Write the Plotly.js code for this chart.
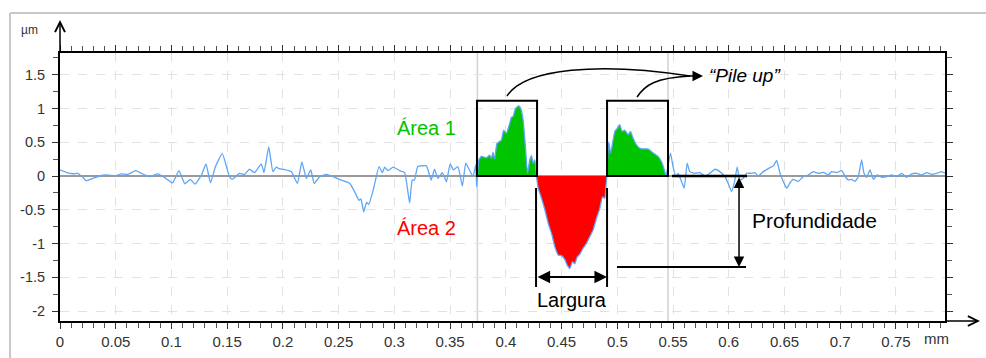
<!DOCTYPE html>
<html>
<head>
<meta charset="utf-8">
<script src="https://cdn.plot.ly/plotly-3.0.1.min.js"></script>
<style>html,body{margin:0;padding:0;background:#fff;}#chart{width:986px;height:358px;}</style>
</head>
<body>
<div id="chart"></div>
<script>
// ---- data (mm, µm) ----
const profileX = [0, 0.0055, 0.0115, 0.016, 0.0205, 0.0235, 0.0295, 0.0355, 0.0415, 0.05, 0.055, 0.061, 0.068, 0.073, 0.08, 0.088, 0.094, 0.101, 0.1067, 0.112, 0.117, 0.121, 0.127, 0.131, 0.135, 0.1395, 0.1456, 0.152, 0.1545, 0.161, 0.1656, 0.17, 0.1746, 0.1806, 0.183, 0.1873, 0.191, 0.194, 0.1964, 0.2015, 0.2075, 0.213, 0.217, 0.221, 0.225, 0.228, 0.233, 0.239, 0.245, 0.2524, 0.26, 0.2644, 0.2682, 0.270, 0.2725, 0.275, 0.277, 0.281, 0.2862, 0.2892, 0.2913, 0.2943, 0.2988, 0.3048, 0.3092, 0.3137, 0.316, 0.318, 0.321, 0.3287, 0.333, 0.336, 0.339, 0.343, 0.3467, 0.350, 0.353, 0.357, 0.361, 0.364, 0.367, 0.3706, 0.373, 0.3738, 0.3745,
  0.3757, 0.378, 0.3826, 0.3855, 0.387, 0.3885, 0.39, 0.392, 0.396, 0.398, 0.4005, 0.4035, 0.405, 0.4065, 0.4086, 0.4116, 0.4134, 0.4155, 0.4176, 0.4194, 0.4215, 0.423, 0.4244, 0.426, 0.4275,
  0.429, 0.432, 0.435, 0.438, 0.4413, 0.444, 0.4469, 0.450, 0.453, 0.455, 0.4574, 0.4598, 0.4619, 0.464, 0.4663, 0.4693, 0.4723, 0.4753, 0.4783, 0.4813, 0.4843, 0.4867, 0.4888, 0.4897, 0.4906,
  0.4912, 0.4924, 0.494, 0.4957, 0.4978, 0.4998, 0.5022, 0.5043, 0.5067, 0.5097, 0.5118, 0.5142, 0.5172, 0.5202, 0.5232, 0.5277, 0.5322, 0.5366, 0.5397, 0.5422, 0.5437,
  0.544, 0.5477, 0.550, 0.5525, 0.5546, 0.5576, 0.56, 0.5627, 0.565, 0.5696, 0.574, 0.5786, 0.583, 0.5876, 0.592, 0.5965, 0.5995, 0.6025, 0.6055, 0.6075, 0.61, 0.613, 0.616, 0.6204, 0.6234, 0.6265, 0.631, 0.6354, 0.640, 0.643, 0.646, 0.6497, 0.652, 0.655, 0.6578, 0.6623, 0.6668, 0.6713, 0.6758, 0.6803, 0.6848, 0.6893, 0.6922, 0.6968, 0.7013, 0.7042, 0.7072, 0.7102, 0.7132, 0.7162, 0.7192, 0.7213, 0.7237, 0.7267, 0.7297, 0.7332, 0.7372, 0.7417, 0.7462, 0.7507, 0.7551, 0.7596, 0.7641, 0.7686, 0.7731, 0.7776, 0.7821, 0.7866, 0.7911, 0.794];
const profileY = [0.09, 0.055, 0.033, 0.04, -0.02, -0.07, -0.035, 0, 0.015, 0.005, 0.03, 0.025, 0.08, 0.04, -0.01, 0.03, -0.025, -0.1, 0.08, -0.115, -0.05, -0.12, 0.015, 0.18, -0.1, 0.14, 0.33, -0.01, -0.05, 0.04, 0.025, 0.1, 0.05, 0.18, 0.05, 0.43, 0.065, 0.13, 0.11, 0.095, 0.065, -0.11, 0.21, -0.035, 0.09, -0.11, -0.01, 0.025, -0.01, -0.06, -0.11, -0.235, -0.36, -0.34, -0.53, -0.39, -0.42, -0.21, 0.14, 0.05, 0.13, 0.08, 0.13, 0.08, 0.05, -0.4, -0.06, -0.06, 0.14, 0.15, -0.06, 0.1, -0.035, 0.05, -0.085, 0.18, 0.09, 0.14, -0.15, 0.19, 0.1, -0.01, 0.165, -0.16, 0,
  0.237, 0.29, 0.27, 0.31, 0.26, 0.35, 0.25, 0.48, 0.53, 0.68, 0.63, 0.78, 0.87, 0.88, 1.0, 1.04, 1.0, 0.83, 0.43, 0.04, 0.24, 0.3, 0.19, 0.24, 0,
  -0.18, -0.33, -0.5, -0.7, -0.87, -1.05, -1.17, -1.18, -1.24, -1.32, -1.37, -1.27, -1.3, -1.2, -1.16, -1.07, -1.0, -0.9, -0.8, -0.63, -0.48, -0.31, -0.33, -0.18, 0,
  0.24, 0.5, 0.33, 0.48, 0.66, 0.7, 0.76, 0.66, 0.68, 0.61, 0.66, 0.56, 0.46, 0.41, 0.4, 0.4, 0.34, 0.29, 0.21, 0.09, 0,
  0.015, 0.34, 0.14, -0.01, 0.04, -0.08, -0.18, 0.19, 0.065, 0.04, 0.05, 0, 0.04, 0.1, 0.065, -0.01, -0.11, -0.23, -0.06, 0.13, -0.06, -0.035, 0.04, 0.04, 0.05, 0, 0.065, 0.11, 0.15, 0.23, 0.04, -0.11, -0.18, -0.1, -0.05, -0.08, -0.01, 0.015, 0.065, 0.04, 0.055, 0.015, 0.065, 0.05, 0.08, 0, -0.06, -0.05, -0.08, -0.01, 0.24, 0.04, -0.02, 0.09, -0.05, 0.015, -0.02, -0.01, 0.015, -0.01, 0.04, -0.02, 0.03, 0.04, 0.015, 0.05, 0.025, 0.04, 0.065, 0.04];

const area1Range = [0.3745, 0.4275];   // pile-up left (Área 1)
const area2Range = [0.4275, 0.4906];   // groove (Área 2)
const area3Range = [0.4906, 0.5437];   // pile-up right (Área 1)

const xTickVals = [0, 0.05, 0.1, 0.15, 0.2, 0.25, 0.3, 0.35, 0.4, 0.45, 0.5, 0.55, 0.6, 0.65, 0.7, 0.75];
const xTickLabels = ["0", "0.05", "0.1", "0.15", "0.2", "0.25", "0.3", "0.35", "0.4", "0.45", "0.5", "0.55", "0.6", "0.65", "0.7", "0.75"];
const yTickVals = [1.5, 1, 0.5, 0, -0.5, -1, -1.5, -2];
const yTickLabels = ["1.5", "1", "0.5", "0", "-0.5", "-1", "-1.5", "-2"];

// ---- helpers ----
function segment(range) {
  const xs = [], ys = [];
  profileX.forEach((x, i) => { if (x >= range[0] - 1e-9 && x <= range[1] + 1e-9) { xs.push(x); ys.push(profileY[i]); } });
  return {xs, ys};
}
const GREEN = '#00c400', RED = '#ff0000', BLUE = '#5ea6f6';
const FONT = 'Liberation Sans, Arial, Helvetica, sans-serif';

const s1 = segment(area1Range), s2 = segment(area2Range), s3 = segment(area3Range);
const traces = [
  {x: s1.xs, y: s1.ys, type: 'scatter', mode: 'none', fill: 'toself', fillcolor: GREEN, hoverinfo: 'skip'},
  {x: s2.xs, y: s2.ys, type: 'scatter', mode: 'none', fill: 'toself', fillcolor: RED, hoverinfo: 'skip'},
  {x: s3.xs, y: s3.ys, type: 'scatter', mode: 'none', fill: 'toself', fillcolor: GREEN, hoverinfo: 'skip'},
  {x: profileX, y: profileY, type: 'scatter', mode: 'lines', line: {color: BLUE, width: 1.3, shape: 'spline', smoothing: 0.4}, hoverinfo: 'skip'}
];

const boxTop = 1.116;
const lineBlack = {color: '#000', width: 2};
const shapes = [
  // outer gray frame of the figure
  {type: 'line', xref: 'paper', yref: 'paper', x0: -0.0565, x1: 1.1, y0: 1.149, y1: 1.149, line: {color: '#c8c8c8', width: 2}},
  {type: 'line', xref: 'paper', yref: 'paper', x0: -0.0565, x1: -0.0565, y0: 1.149, y1: -0.2, line: {color: '#c8c8c8', width: 2}},
  // gray vertical reference lines
  {type: 'line', xref: 'x', yref: 'paper', x0: area1Range[0], x1: area1Range[0], y0: 0, y1: 1, layer: 'below', line: {color: '#d2d2d2', width: 1.5}},
  {type: 'line', xref: 'x', yref: 'paper', x0: 0.5455, x1: 0.5455, y0: 0, y1: 1, layer: 'below', line: {color: '#d2d2d2', width: 1.5}},
  // boxes
  {type: 'rect', xref: 'x', yref: 'y', x0: 0.3741, x1: 0.428, y0: 0, y1: boxTop, line: lineBlack},
  {type: 'rect', xref: 'x', yref: 'y', x0: 0.4908, x1: 0.5455, y0: 0, y1: boxTop, line: lineBlack},
  // depth reference lines
  {type: 'line', xref: 'x', yref: 'y', x0: 0.549, x1: 0.6164, y0: 0, y1: 0, line: {color: '#000', width: 2.5}},
  {type: 'line', xref: 'x', yref: 'y', x0: 0.4997, x1: 0.6155, y0: -1.348, y1: -1.348, line: lineBlack},
  // width reference lines
  {type: 'line', xref: 'x', yref: 'y', x0: 0.4271, x1: 0.4271, y0: -0.178, y1: -1.644, line: lineBlack},
  {type: 'line', xref: 'x', yref: 'y', x0: 0.4908, x1: 0.4908, y0: -0.178, y1: -1.644, line: lineBlack},
  // curved pointers to "Pile up"
  {type: 'path', xref: 'x', yref: 'y', path: 'M 0.401,1.185 C 0.4172,1.6 0.4845,1.689 0.5652,1.4815', line: {color: '#000', width: 1.5}},
  {type: 'path', xref: 'x', yref: 'y', path: 'M 0.5177,1.17 C 0.5249,1.348 0.5338,1.452 0.5652,1.4815', line: {color: '#000', width: 1.5}}
];

const C = {xanchor: 'center', yanchor: 'middle', showarrow: false};
const annotations = [
  Object.assign({text: 'Área 1', x: 0.329, y: 0.711, xref: 'x', yref: 'y', font: {family: FONT, size: 20, color: GREEN}}, C),
  Object.assign({text: 'Área 2', x: 0.329, y: -0.77, xref: 'x', yref: 'y', font: {family: FONT, size: 20, color: RED}}, C),
  Object.assign({text: '“Pile up”', x: 0.6146, y: 1.496, xref: 'x', yref: 'y', font: {family: FONT, size: 19, color: '#000', style: 'italic'}}, C),
  Object.assign({text: 'Profundidade', x: 0.6765, y: -0.652, xref: 'x', yref: 'y', font: {family: FONT, size: 21, color: '#000'}}, C),
  Object.assign({text: 'Largura', x: 0.4594, y: -1.837, xref: 'x', yref: 'y', font: {family: FONT, size: 20, color: '#000'}}, C),
  // pile up arrow
  {text: '', x: 0.5769, y: 1.4815, ax: 0.5634, ay: 1.4815, xref: 'x', yref: 'y', axref: 'x', ayref: 'y', showarrow: true, arrowhead: 2, arrowsize: 1.4, arrowwidth: 1.5, arrowcolor: '#000'},
  // depth arrow
  {text: '', x: 0.6092, y: -1.348, ax: 0.6092, ay: 0, xref: 'x', yref: 'y', axref: 'x', ayref: 'y', showarrow: true, arrowside: 'end+start', arrowhead: 2, startarrowhead: 2, arrowsize: 1.4, startarrowsize: 1.4, arrowwidth: 1.5, arrowcolor: '#000'},
  // width arrow
  {text: '', x: 0.4908, y: -1.496, ax: 0.4271, ay: -1.496, xref: 'x', yref: 'y', axref: 'x', ayref: 'y', showarrow: true, arrowside: 'end+start', arrowhead: 2, startarrowhead: 2, arrowsize: 1.4, startarrowsize: 1.4, arrowwidth: 1.8, arrowcolor: '#000'},
  // axis arrows
  {text: '', x: 0, y: 1.123, xref: 'paper', yref: 'paper', ax: 0, ay: 33, showarrow: true, arrowhead: 5, arrowsize: 1.3, arrowwidth: 1.5, arrowcolor: '#000'},
  {text: '', x: 1.0395, y: 0, xref: 'paper', yref: 'paper', ax: -36, ay: 0, showarrow: true, arrowhead: 5, arrowsize: 1.3, arrowwidth: 1.5, arrowcolor: '#000'},
  // units
  Object.assign({text: 'µm', x: -0.034, y: 1.086, xref: 'paper', yref: 'paper', font: {family: FONT, size: 12, color: '#333'}}, C),
  Object.assign({text: 'mm', x: 0.7865, y: -0.067, xref: 'x', yref: 'paper', font: {family: FONT, size: 15, color: '#333'}}, C)
];

const layout = {
  width: 986, height: 358,
  margin: {l: 60, r: 41, t: 53, b: 37},
  paper_bgcolor: '#fff', plot_bgcolor: '#fff',
  showlegend: false,
  font: {family: FONT, size: 14, color: '#333'},
  xaxis: {
    range: [0, 0.794], tickmode: 'array', tickvals: xTickVals, ticktext: xTickLabels,
    showline: true, linecolor: '#000', linewidth: 2, mirror: 'allticks',
    ticks: 'outside', ticklen: 6, tickcolor: '#333', tickwidth: 1,
    showgrid: true, gridcolor: '#e2e2e2', griddash: 'dash', gridwidth: 1,
    zeroline: false,
    minor: {dtick: 0.01, tick0: 0, ticklen: 5, tickcolor: '#555', showgrid: false, ticks: 'outside'},
    tickfont: {family: FONT, size: 15, color: '#333'}
  },
  yaxis: {
    range: [-2.148, 1.822], tickmode: 'array', tickvals: yTickVals, ticktext: yTickLabels,
    showline: true, linecolor: '#000', linewidth: 2, mirror: 'allticks',
    ticks: 'outside', ticklen: 6, tickcolor: '#333', tickwidth: 1,
    showgrid: true, gridcolor: '#e2e2e2', griddash: 'dash', gridwidth: 1,
    zeroline: true, zerolinecolor: '#9a9a9a', zerolinewidth: 1.5,
    minor: {dtick: 0.25, tick0: 0, ticklen: 5, tickcolor: '#555', showgrid: false, ticks: 'outside'},
    ticklabelstandoff: 4,
    tickfont: {family: FONT, size: 14.5, color: '#333'}
  },
  shapes: shapes,
  annotations: annotations
};

Plotly.newPlot('chart', traces, layout, {staticPlot: true, displayModeBar: false});
</script>
</body>
</html>
